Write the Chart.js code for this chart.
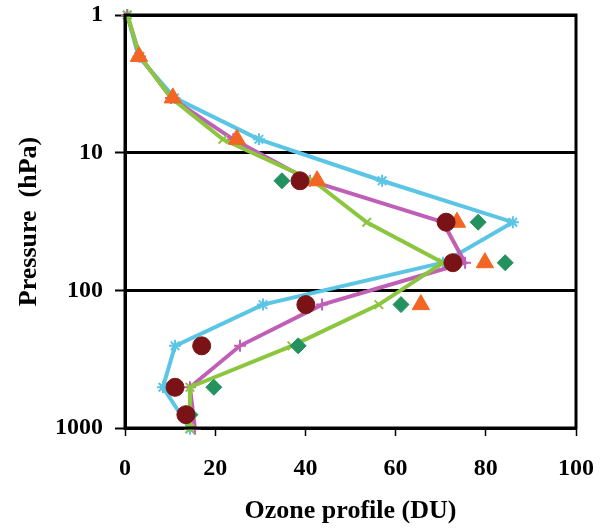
<!DOCTYPE html>
<html>
<head>
<meta charset="utf-8">
<script src="https://cdn.jsdelivr.net/npm/chart.js@4"></script>
<style>
  html, body { margin: 0; padding: 0; background: #fff; }
  #wrap { width: 605px; height: 531px; }
</style>
</head>
<body>
<div id="wrap"><canvas id="chart" width="605" height="531"></canvas></div>
<script>
// pressure levels (hPa)
const levels = [1, 2, 4, 8, 16, 32, 63, 127, 253, 506, 1013];
const cyanVals = [0.5, 3, 11, 29.7, 57, 86, 70.5, 30.6, 11.1, 8.4, 14.4];
const magentaVals = [0.5, 3.3, 10.2, 24, 41, 70.5, 75.4, 43.7, 25.5, 14.4, 15.5];
const greenVals = [0.5, 3.3, 10.2, 21.7, 41.7, 53.6, 70.5, 56.3, 37.0, 14.4, 14.4];

// markers without lines
const triLevels = [2, 4, 8, 16, 32, 63, 127];
const triVals = [3.1, 10.6, 24.8, 42.6, 73.6, 79.8, 65.6];
const dotLevels = [16, 32, 63, 127, 253, 506, 800];
const circleVals = [38.8, 71.2, 72.7, 40.1, 17.0, 11.1, 13.5];
const diamondVals = [34.8, 78.3, 84.3, 61.2, 38.4, 19.7, 14.4];

const yTicks = [1, 10, 100, 1000];

const pts = (xs, ps) => xs.map((v, i) => ({ x: v, y: ps[i] }));

// box around the plot area
const frame = {
  id: "frame",
  afterDraw(chart) {
    const { ctx, chartArea: a } = chart;
    ctx.save();
    ctx.strokeStyle = "#000";
    ctx.lineWidth = 3;
    ctx.strokeRect(a.left, a.top, a.right - a.left, a.bottom - a.top);
    ctx.restore();
  },
};

const serif = "'Liberation Serif', 'Times New Roman', serif";

new Chart(document.getElementById("chart"), {
  type: "scatter",
  data: {
    datasets: [
      {
        data: pts(circleVals, dotLevels),
        pointStyle: "circle", radius: 9,
        backgroundColor: "#7A1315", borderColor: "#7A1315",
      },
      {
        data: pts(triVals, triLevels),
        pointStyle: "triangle", radius: 10,
        backgroundColor: "#F26522", borderColor: "#F26522",
      },
      {
        data: pts(diamondVals, dotLevels),
        pointStyle: "rectRot", radius: 8,
        backgroundColor: "#23925E", borderColor: "#23925E",
      },
      {
        data: pts(greenVals, levels),
        showLine: true, borderWidth: 4,
        borderColor: "#8CC63E", backgroundColor: "#8CC63E",
        pointStyle: "crossRot", radius: 6, pointBorderWidth: 2,
      },
      {
        data: pts(magentaVals, levels),
        showLine: true, borderWidth: 4,
        borderColor: "#BF5FB5", backgroundColor: "#BF5FB5",
        pointStyle: "cross", radius: 6, pointBorderWidth: 2,
      },
      {
        data: pts(cyanVals, levels),
        showLine: true, borderWidth: 4,
        borderColor: "#5BC5E5", backgroundColor: "#5BC5E5",
        pointStyle: "star", radius: 6, pointBorderWidth: 2,
      },
    ],
  },
  options: {
    responsive: false,
    animation: false,
    clip: false,
    layout: { padding: { top: 15, right: 29, left: 0, bottom: 0 } },
    plugins: {
      legend: { display: false },
      tooltip: { enabled: false },
    },
    scales: {
      x: {
        type: "linear",
        min: 0, max: 100,
        ticks: {
          stepSize: 20, color: "#000", padding: 18,
          font: { family: serif, size: 24, weight: "bold" },
        },
        grid: { drawOnChartArea: false, color: "#000", tickLength: 8, tickWidth: 1.5 },
        border: { color: "#000", width: 3 },
        title: {
          display: true, text: "Ozone profile (DU)", color: "#000",
          font: { family: serif, size: 26, weight: "bold" },
          padding: { top: 4 },
        },
        afterFit(scale) {
          scale.height = 103;
          scale.paddingLeft = 0;
          scale.paddingRight = 0;
        },
      },
      y: {
        type: "logarithmic",
        reverse: true,
        min: 1, max: 1000,
        afterBuildTicks(scale) { scale.ticks = yTicks.map((v) => ({ value: v })); },
        ticks: {
          color: "#000", padding: 12,
          font: { family: serif, size: 24, weight: "bold" },
          callback: (v) => String(v),
        },
        grid: { color: "#000", lineWidth: 3, tickLength: 10, tickWidth: 2 },
        border: { color: "#000", width: 3 },
        title: {
          display: true, text: "Pressure  (hPa)", color: "#000",
          font: { family: serif, size: 26, weight: "bold" },
          padding: { top: 14, bottom: 4 },
        },
        afterFit(scale) {
          scale.width = 125;
          scale.paddingTop = 0;
          scale.paddingBottom = 0;
        },
      },
    },
  },
  plugins: [frame],
});
</script>
</body>
</html>
